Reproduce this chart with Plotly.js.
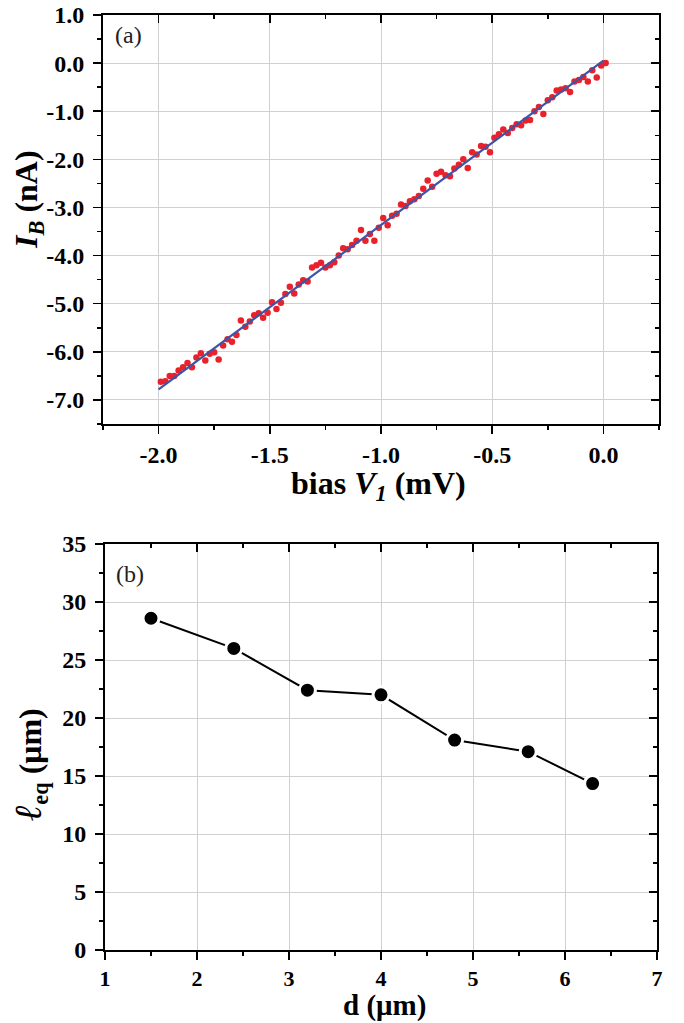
<!DOCTYPE html>
<html>
<head>
<meta charset="utf-8">
<script src="https://cdn.plot.ly/plotly-3.0.1.min.js"></script>
<style>html,body{margin:0;padding:0;background:#fff;}#chart{width:684px;height:1023px;}</style>
</head>
<body>
<div id="chart"></div>
<script>
// Panel (a): measured I_B vs bias V1
const biasV1 = [-1.99,-1.97,-1.95,-1.93,-1.91,-1.89,-1.87,-1.85,-1.83,-1.81,-1.79,-1.77,-1.75,-1.73,-1.71,-1.69,-1.67,-1.65,-1.63,-1.61,-1.59,-1.57,-1.55,-1.53,-1.51,
  -1.49,-1.47,-1.45,-1.43,-1.41,-1.39,-1.37,-1.35,-1.33,-1.31,-1.29,-1.27,-1.25,-1.23,-1.21,-1.19,-1.17,-1.15,-1.13,-1.11,-1.09,-1.07,-1.05,-1.03,-1.01,
  -0.99,-0.97,-0.95,-0.93,-0.91,-0.89,-0.87,-0.85,-0.83,-0.81,-0.79,-0.77,-0.75,-0.73,-0.71,-0.69,-0.67,-0.65,-0.63,-0.61,-0.59,-0.57,-0.55,-0.53,-0.51,
  -0.49,-0.47,-0.45,-0.43,-0.41,-0.39,-0.37,-0.35,-0.33,-0.31,-0.29,-0.27,-0.25,-0.23,-0.21,-0.19,-0.17,-0.15,-0.13,-0.11,-0.09,-0.07,-0.05,-0.03,-0.01,0.01];
const currentIB = [-6.62,-6.61,-6.50,-6.50,-6.39,-6.32,-6.23,-6.32,-6.12,-6.03,-6.18,-6.04,-6.01,-6.16,-5.87,-5.74,-5.79,-5.65,-5.35,-5.48,-5.37,-5.24,-5.20,-5.29,-5.19,
  -4.97,-5.11,-4.98,-4.80,-4.65,-4.79,-4.60,-4.51,-4.54,-4.25,-4.20,-4.15,-4.25,-4.20,-4.14,-4.00,-3.85,-3.87,-3.78,-3.69,-3.47,-3.69,-3.55,-3.69,-3.42,
  -3.22,-3.37,-3.17,-3.13,-2.94,-2.97,-2.87,-2.83,-2.76,-2.61,-2.44,-2.57,-2.30,-2.26,-2.33,-2.35,-2.19,-2.11,-2.00,-2.18,-1.85,-1.90,-1.72,-1.74,-1.85,
  -1.55,-1.48,-1.38,-1.45,-1.35,-1.27,-1.29,-1.19,-1.18,-1.00,-0.91,-1.06,-0.77,-0.71,-0.57,-0.55,-0.52,-0.60,-0.38,-0.35,-0.29,-0.38,-0.15,-0.30,-0.05,0.00];
// Linear fit
const fitV1 = [-2.0, 0.0];
const fitIB = [-6.78, 0.05];

// Panel (b): l_eq vs d
const dMicron = [1.5, 2.4, 3.2, 4.0, 4.8, 5.6, 6.3];
const leqMicron = [28.6, 26.0, 22.4, 22.0, 18.1, 17.1, 14.35];

// Tick labels
const aXTickVals = [-2.0, -1.5, -1.0, -0.5, 0.0];
const aXTickText = ['-2.0', '-1.5', '-1.0', '-0.5', '0.0'];
const aYTickVals = [1, 0, -1, -2, -3, -4, -5, -6, -7];
const aYTickText = ['1.0', '0.0', '-1.0', '-2.0', '-3.0', '-4.0', '-5.0', '-6.0', '-7.0'];
const bXTickVals = [1, 2, 3, 4, 5, 6, 7];
const bXTickText = ['1', '2', '3', '4', '5', '6', '7'];
const bYTickVals = [0, 5, 10, 15, 20, 25, 30, 35];
const bYTickText = ['0', '5', '10', '15', '20', '25', '30', '35'];

const FONT = 'Liberation Serif, Times New Roman, serif';
const tickFont = {family: FONT, size: 24, color: '#000', weight: 'bold'};

const aXRange = [-2.25, 0.25], aYRange = [-7.5, 1.0];
const bXRange = [1, 7], bYRange = [0, 35];

const aXDom = [103/684, 659/684], aYDom = [1-424/1023, 1-15/1023];
const bXDom = [105/684, 657/684], bYDom = [1-950/1023, 1-544/1023];

function mainAxis(dom, range, vals, text, minorDt, anchor, standoff, fsize) {
  return {
    domain: dom, range: range, anchor: anchor,
    tickmode: 'array', tickvals: vals, ticktext: text,
    ticks: 'outside', ticklen: 8, tickwidth: 1.5, tickcolor: '#000',
    ticklabelstandoff: standoff,
    minor: {tickmode: 'linear', tick0: 0, dtick: minorDt, ticks: 'outside', ticklen: 4, tickwidth: 1.5, tickcolor: '#000', showgrid: false},
    showline: true, linewidth: 2, linecolor: '#000',
    showgrid: true, gridcolor: '#d0d0d0', gridwidth: 1,
    zeroline: false, tickfont: Object.assign({}, tickFont, fsize ? {size: fsize} : {}), fixedrange: true
  };
}
function mirrorAxis(range, vals, minorDt, overlay, side, anchor) {
  return {
    overlaying: overlay, side: side, anchor: anchor, range: range,
    tickmode: 'array', tickvals: vals,
    ticks: 'inside', ticklen: 8, tickwidth: 1.5, tickcolor: '#000',
    minor: {tickmode: 'linear', tick0: 0, dtick: minorDt, ticks: 'inside', ticklen: 4, tickwidth: 1.5, tickcolor: '#000', showgrid: false},
    showline: true, linewidth: 2, linecolor: '#000',
    showgrid: false, zeroline: false, showticklabels: false, fixedrange: true
  };
}

const traces = [
  {x: biasV1, y: currentIB, xaxis: 'x', yaxis: 'y', mode: 'markers', type: 'scatter',
   marker: {color: '#e8212b', size: 6.5}, hoverinfo: 'x+y', showlegend: false},
  {x: fitV1, y: fitIB, xaxis: 'x', yaxis: 'y', mode: 'lines', type: 'scatter',
   line: {color: '#3b55a8', width: 2.2}, hoverinfo: 'skip', showlegend: false},
  {x: dMicron, y: leqMicron, xaxis: 'x2', yaxis: 'y2', mode: 'lines+markers', type: 'scatter',
   line: {color: '#000', width: 2},
   marker: {color: '#000', size: 16, line: {color: '#fff', width: 3}}, showlegend: false},
  {x: [], y: [], xaxis: 'x3', yaxis: 'y3', type: 'scatter', mode: 'markers', showlegend: false, hoverinfo: 'skip'},
  {x: [], y: [], xaxis: 'x4', yaxis: 'y4', type: 'scatter', mode: 'markers', showlegend: false, hoverinfo: 'skip'}
];

const titleFont = {family: FONT, size: 32, color: '#000'};
const layout = {
  width: 684, height: 1023,
  margin: {l: 0, r: 0, t: 0, b: 0},
  paper_bgcolor: '#fff', plot_bgcolor: '#fff',
  showlegend: false,
  xaxis: mainAxis(aXDom, aXRange, aXTickVals, aXTickText, 0.25, 'y', 0),
  yaxis: mainAxis(aYDom, aYRange, aYTickVals, aYTickText, 0.5, 'x', 4),
  xaxis2: mainAxis(bXDom, bXRange, bXTickVals, bXTickText, 0.5, 'y2', 0, 22),
  yaxis2: mainAxis(bYDom, bYRange, bYTickVals, bYTickText, 2.5, 'x2', 4),
  xaxis3: mirrorAxis(aXRange, aXTickVals, 0.25, 'x', 'top', 'y3'),
  yaxis3: mirrorAxis(aYRange, aYTickVals, 0.5, 'y', 'right', 'x3'),
  xaxis4: mirrorAxis(bXRange, bXTickVals, 0.5, 'x2', 'top', 'y4'),
  yaxis4: mirrorAxis(bYRange, bYTickVals, 2.5, 'y2', 'right', 'x4'),
  annotations: [
    {xref: 'paper', yref: 'paper', x: 378/684, y: 1-485/1023, xanchor: 'center', yanchor: 'middle', showarrow: false,
     text: '<b>bias <i>V</i><sub><i>1</i></sub> (mV)</b>', font: titleFont},
    {xref: 'paper', yref: 'paper', x: 28/684, y: 1-200/1023, xanchor: 'center', yanchor: 'middle', showarrow: false, textangle: -90,
     text: '<b><i>I</i><sub><i>B</i></sub> (nA)</b>', font: titleFont},
    {xref: 'paper', yref: 'paper', x: 384/684, y: 1-1005/1023, xanchor: 'center', yanchor: 'middle', showarrow: false,
     text: '<b>d (μm)</b>', font: {family: FONT, size: 29, color: '#000'}},
    {xref: 'paper', yref: 'paper', x: 30/684, y: 1-765/1023, xanchor: 'center', yanchor: 'middle', showarrow: false, textangle: -90,
     text: '<b><span style="font-size:38px"><i>ℓ</i></span><sub>eq</sub> (μm)</b>', font: titleFont},
    {xref: 'paper', yref: 'paper', x: 128/684, y: 1-35/1023, xanchor: 'center', yanchor: 'middle', showarrow: false,
     text: '(a)', font: {family: FONT, size: 24, color: '#222'}},
    {xref: 'paper', yref: 'paper', x: 130/684, y: 1-574/1023, xanchor: 'center', yanchor: 'middle', showarrow: false,
     text: '(b)', font: {family: FONT, size: 24, color: '#222'}}
  ]
};

Plotly.newPlot('chart', traces, layout, {displayModeBar: false, staticPlot: true});
</script>
</body>
</html>
